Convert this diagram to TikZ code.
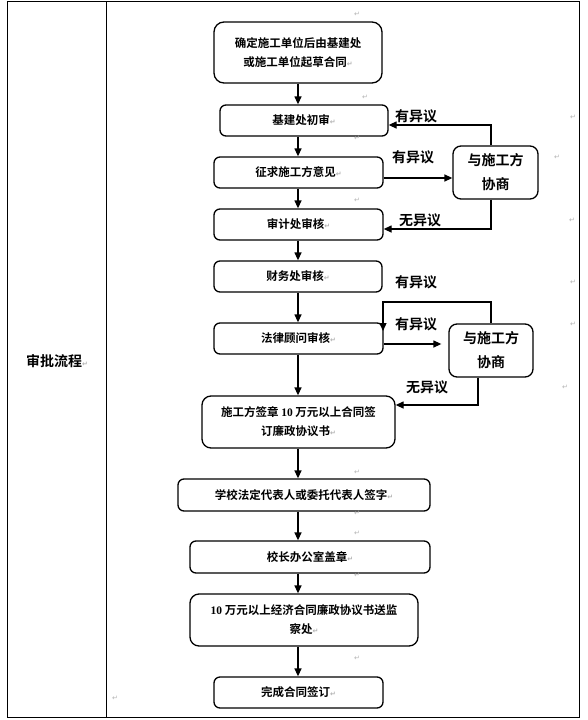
\documentclass[tikz,border=0pt]{standalone}
\usepackage{fontspec}
\usetikzlibrary{arrows.meta}
\setmainfont{Noto Sans CJK SC}[BoldFont={Noto Sans CJK SC Bold}]
\newfontfamily\retfont{DejaVu Sans}
\newfontfamily\latb{Liberation Serif}
\newcommand\ret{{\retfont\fontsize{7}{7}\selectfont\color{gray!60}↵}}
\newcommand\num[1]{{\latb\bfseries #1}}
\tikzset{
  tbl/.style={draw=black, line width=0.9pt},
  box/.style={draw=black, line width=1.3pt, rounded corners=6pt, align=center,
    font=\bfseries\fontsize{11.5}{19}\selectfont, inner sep=0pt},
  sidebox/.style={box, rounded corners=8pt, font=\bfseries\fontsize{14}{24}\selectfont},
  arr/.style={-{Triangle[length=8pt,width=7pt]}, line width=1.3pt},
  lbl/.style={font=\bfseries\fontsize{14}{14}\selectfont, inner sep=0pt},
  pm/.style={inner sep=0pt, font=\retfont\fontsize{7}{7}\selectfont, text=gray!60}
}
\begin{document}
\begin{tikzpicture}[x=1pt,y=-1pt]
\useasboundingbox (0,0) rectangle (587,720);
% table
\draw[tbl] (7,1) rectangle (579,717);
\draw[tbl] (106,1) -- (106,717);
\node[lbl] (title) at (57,361) {审批流程\ret};

% main boxes
\node[box, rounded corners=10pt, minimum width=168pt, minimum height=61pt] (b1) at (298,52.5) {确定施工单位后由基建处\\或施工单位起草合同\ret};
\node[box, minimum width=168pt, minimum height=31pt] (b2) at (304,120.5) {基建处初审\ret};
\node[box, minimum width=169pt, minimum height=31pt] (b3) at (298.5,172.5) {征求施工方意见\ret};
\node[box, minimum width=169pt, minimum height=31pt] (b4) at (298.5,224.5) {审计处审核\ret};
\node[box, minimum width=168pt, minimum height=31pt] (b5) at (298,276.5) {财务处审核\ret};
\node[box, minimum width=169pt, minimum height=31pt] (b6) at (298.5,338.5) {法律顾问审核\ret};
\node[box, rounded corners=9pt, minimum width=193pt, minimum height=52pt] (b7) at (298.5,422) {施工方签章 \num{10} 万元以上合同签\\订廉政协议书\ret};
\node[box, minimum width=252pt, minimum height=32pt] (b8) at (304,495) {学校法定代表人或委托代表人签字\ret};
\node[box, minimum width=240pt, minimum height=32pt] (b9) at (310,557) {校长办公室盖章\ret};
\node[box, rounded corners=9pt, minimum width=228pt, minimum height=52pt] (b10) at (304,620) {\num{10} 万元以上经济合同廉政协议书送监\\察处\ret};
\node[box, minimum width=169pt, minimum height=31pt] (b11) at (298.5,692.5) {完成合同签订\ret};

% side boxes
\node[sidebox, minimum width=85pt, minimum height=53pt] (A) at (495.5,172.5) {与施工方\\协商};
\node[sidebox, minimum width=84pt, minimum height=53pt] (B) at (491,350.5) {与施工方\\协商};

% main vertical arrows
\coordinate (ax) at (298,0);
\draw[arr] (ax |- b1.south) -- (ax |- b2.north);
\draw[arr] (ax |- b2.south) -- (ax |- b3.north);
\draw[arr] (ax |- b3.south) -- (ax |- b4.north);
\draw[arr] (ax |- b4.south) -- (ax |- b5.north);
\draw[arr] (ax |- b5.south) -- (ax |- b6.north);
\draw[arr] (ax |- b6.south) -- (ax |- b7.north);
\draw[arr] (ax |- b7.south) -- (ax |- b8.north);
\draw[arr] (ax |- b8.south) -- (ax |- b9.north);
\draw[arr] (ax |- b9.south) -- (ax |- b10.north);
\draw[arr] (ax |- b10.south) -- (ax |- b11.north);

% upper loop
\coordinate (lx) at (491,0);
\draw[arr] (lx |- A.north) |- ([yshift=-4.5pt]b2.east);
\draw[arr] ([yshift=-5.5pt]b3.east) -- ([yshift=-5.5pt]b3.east -| A.west);
\draw[arr] (lx |- A.south) |- ([yshift=-4.5pt]b4.east);
\node[lbl] (l1) at (416,116) {有异议};
\node[lbl] (l2) at (413,157) {有异议};
\node[lbl] (l3) at (420,220) {无异议};

% lower loop
\coordinate (t1) at (383,302);
\coordinate (t2) at (383,331);
\coordinate (lx2) at (478,0);
\draw[arr] (lx |- B.north) |- (t1) -- (t2);
\draw[arr, shorten >=7pt] ([yshift=-5.5pt]b6.east) -- ([yshift=-5.5pt]b6.east -| B.west);
\draw[arr] (lx2 |- B.south) |- ([yshift=17pt]b7.east);
\node[lbl] (l4) at (416,282) {有异议};
\node[lbl] (l5) at (416,324) {有异议};
\node[lbl] (l6) at (427,387) {无异议};

% paragraph marks
\foreach \p [count=\i] in {(357,14),(365,97),(573,117),(357,138),(557,157),(357,200),(572,220),(573,282),(573,324),(565,387),(357,472),(357,513),(357,533),(357,575),(357,658),(115,698)}
  \node[pm] (pm\i) at \p {↵};
\end{tikzpicture}
\end{document}
